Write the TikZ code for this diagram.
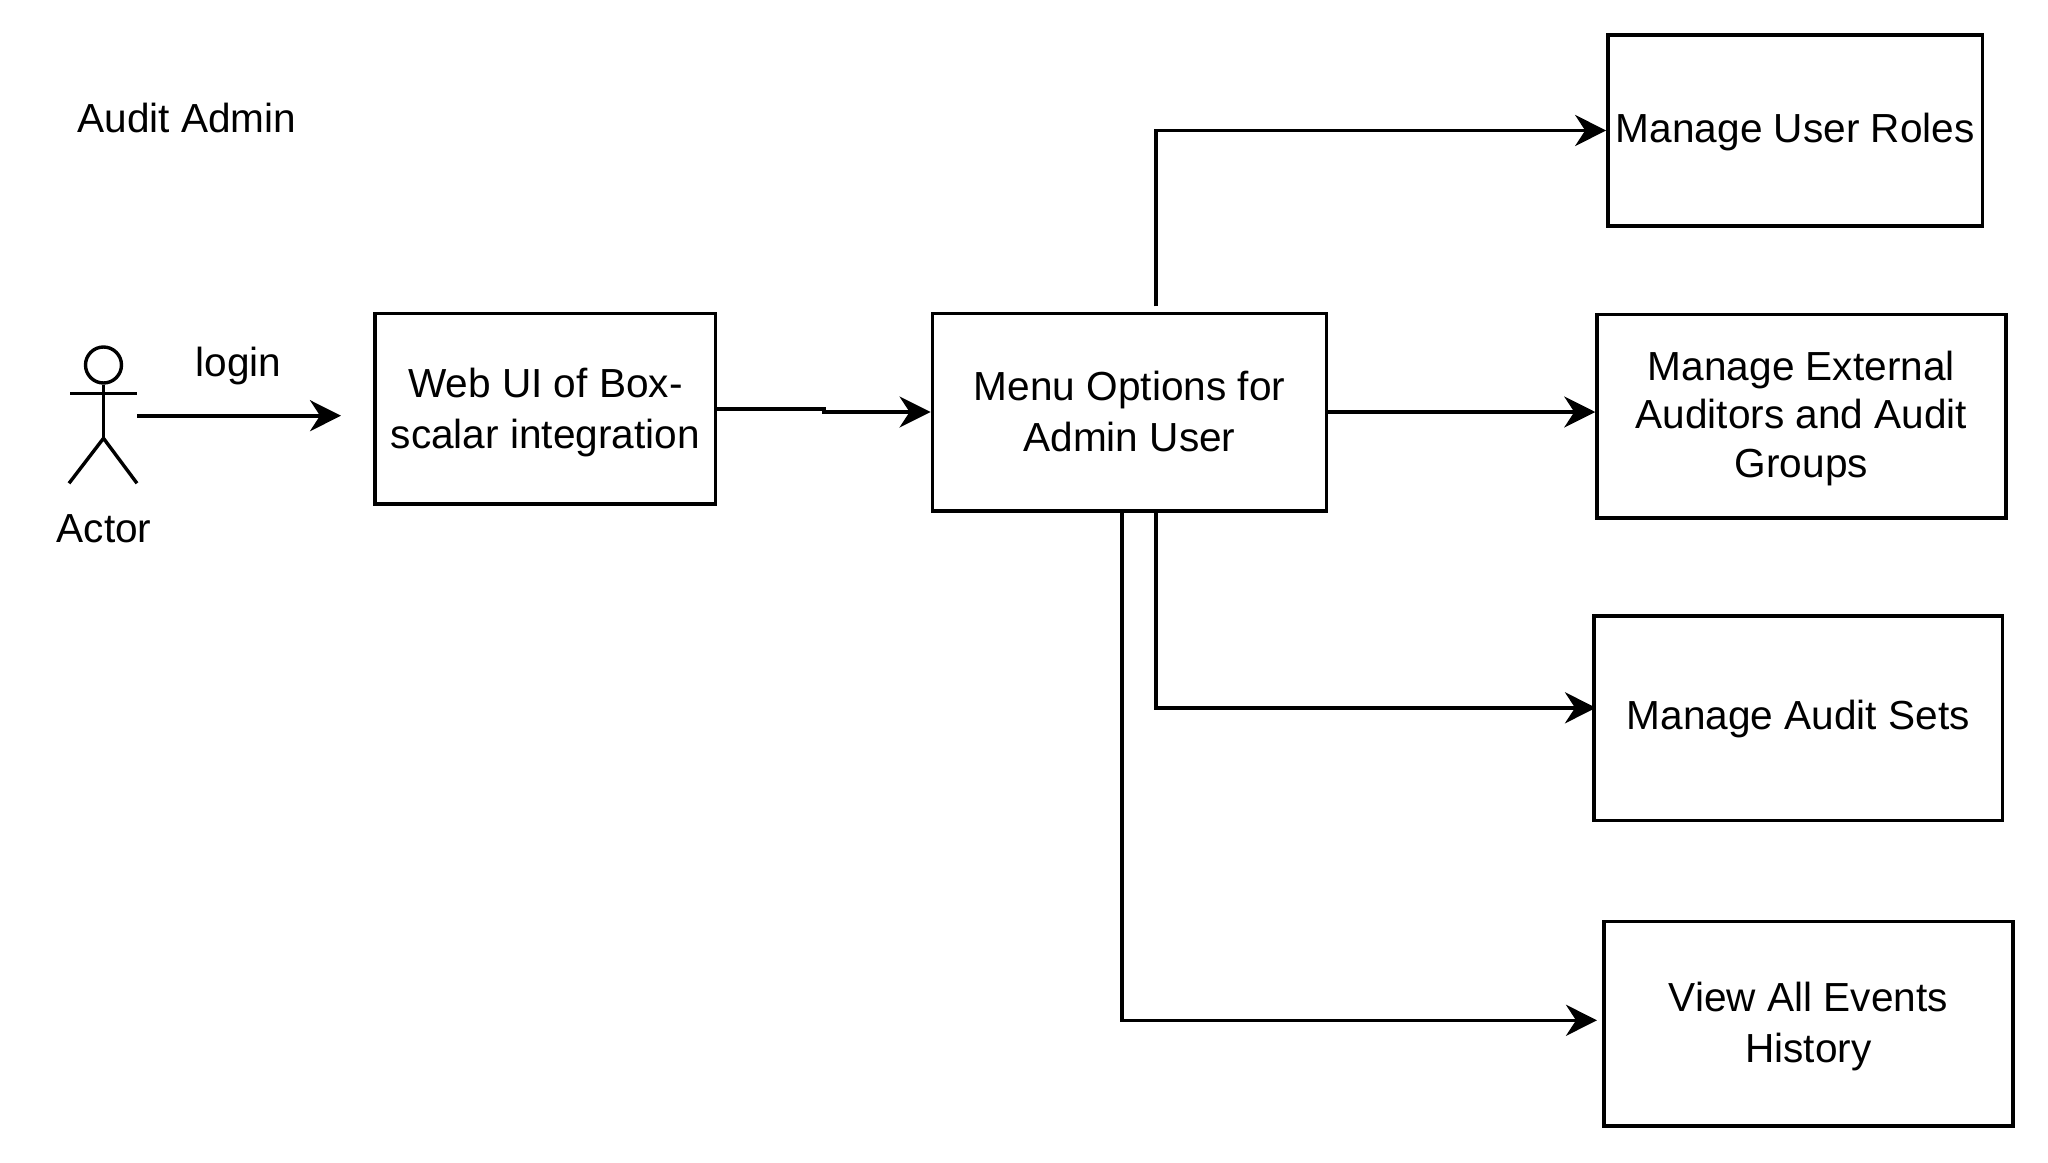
\documentclass[tikz,border=0pt]{standalone}
\usepackage{fontspec}
\setmainfont{Liberation Sans}
\usetikzlibrary{positioning, arrows.meta}

\tikzset{
  box/.style={rectangle, draw, line width=3.6pt, align=center, text depth=4pt, font=\fontsize{40.6}{51}\selectfont},
  plain/.style={align=center, inner sep=0pt, font=\fontsize{40.6}{51}\selectfont},
  link/.style={line width=3.6pt, -{Stealth[length=31pt,width=31pt,inset=10pt]}},
  figure/.style={line width=3.4pt}
}

\begin{document}
\begin{tikzpicture}[x=1pt,y=-1pt]
  \useasboundingbox (0,0) rectangle (2048,1162);

  % Nodes
  \node[plain] (title) at (187,118.2) {Audit Admin};
  \node[circle, draw, figure, minimum size=36pt, inner sep=0pt] (head) at (103.5,365) {};
  \node[plain] (actor) at (104,529) {Actor};
  \node[plain] (login) at (238.5,366.3) {login};

  \node[box, minimum width=340.6pt, minimum height=190.7pt, text depth=0pt] (web) at (545.3,408.7) {Web UI of Box-\\scalar integration};
  \node[box, minimum width=394.3pt, minimum height=197.4pt, text depth=1.5pt] (menu) at (1129.5,412) {Menu Options for\\Admin User};
  \node[box, minimum width=374.7pt, minimum height=191pt, text depth=5.3pt] (roles) at (1795.3,130.5) {Manage User Roles};
  \node[box, minimum width=408.7pt, minimum height=203.6pt] (external) at (1801.4,416.1) {Manage External\\[-2.5pt]Auditors and Audit\\[-2.5pt]Groups};
  \node[box, minimum width=408.6pt, minimum height=204.3pt, text depth=7pt] (sets) at (1798.3,718.2) {Manage Audit Sets};
  \node[box, minimum width=409pt, minimum height=204.2pt, text depth=2.5pt] (history) at (1808.5,1023.7) {View All Events\\History};

  % Actor figure
  \coordinate (hip) at (103.5,438.3);
  \coordinate (armL) at (70,393.3);
  \coordinate (armR) at (137,393.3);
  \coordinate (footL) at (69,483.3);
  \coordinate (footR) at (137,483.3);
  \draw[figure] (head) -- (hip);
  \draw[figure] (armL) -- (armR);
  \draw[figure] (footL) -- (hip) -- (footR);

  % Arrows
  \coordinate (loginStart) at (137,415.7);
  \coordinate (loginEnd) at (341,415.7);
  \coordinate (stepA) at (824,409);
  \coordinate (stepB) at (824,412);
  \coordinate (menuTop) at (1156,306.4);
  \coordinate (menuLow) at (1156,510.7);
  \coordinate (menuLeft) at (1122,510.7);
  \coordinate (setsIn) at (1596,707.8);
  \coordinate (historyIn) at (1597,1020.3);
  \draw[link] (loginStart) -- (loginEnd);
  \draw[link] (web.east |- stepA) -- (stepA) -- (stepB) -- (stepB -| menu.west);
  \draw[link] (menuTop) |- (roles.west);
  \draw[link] (menu.east) -- (menu.east -| external.west);
  \draw[link] (menuLow) |- (setsIn);
  \draw[link] (menuLeft) |- (historyIn);
\end{tikzpicture}
\end{document}
